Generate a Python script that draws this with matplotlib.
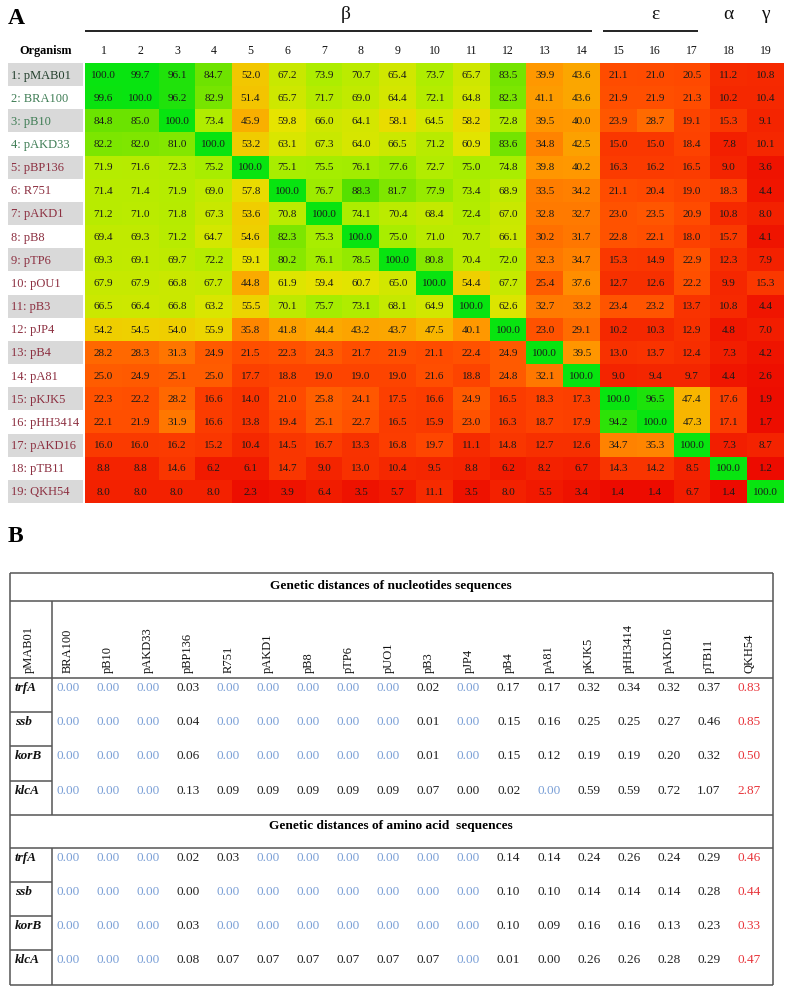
import numpy as np
import matplotlib
matplotlib.use("Agg")
import matplotlib.pyplot as plt
from matplotlib.colors import LinearSegmentedColormap

W, H = 788, 990
SERIF = "Liberation Serif"
plt.rcParams['font.family'] = [SERIF, 'DejaVu Serif']

# ---------------- data: panel A ----------------
organisms = ["pMAB01", "BRA100", "pB10", "pAKD33", "pBP136", "R751", "pAKD1",
             "pB8", "pTP6", "pOU1", "pB3", "pJP4", "pB4", "pA81", "pKJK5",
             "pHH3414", "pAKD16", "pTB11", "QKH54"]
col_numbers = [str(i) for i in range(1, 20)]
groups = [("β", 0, 13), ("ε", 14, 16), ("α", 17, 17), ("γ", 18, 18)]

identity = [
    [100.0, 99.7, 96.1, 84.7, 52.0, 67.2, 73.9, 70.7, 65.4, 73.7, 65.7, 83.5, 39.9, 43.6, 21.1, 21.0, 20.5, 11.2, 10.8],
    [99.6, 100.0, 96.2, 82.9, 51.4, 65.7, 71.7, 69.0, 64.4, 72.1, 64.8, 82.3, 41.1, 43.6, 21.9, 21.9, 21.3, 10.2, 10.4],
    [84.8, 85.0, 100.0, 73.4, 45.9, 59.8, 66.0, 64.1, 58.1, 64.5, 58.2, 72.8, 39.5, 40.0, 23.9, 28.7, 19.1, 15.3, 9.1],
    [82.2, 82.0, 81.0, 100.0, 53.2, 63.1, 67.3, 64.0, 66.5, 71.2, 60.9, 83.6, 34.8, 42.5, 15.0, 15.0, 18.4, 7.8, 10.1],
    [71.9, 71.6, 72.3, 75.2, 100.0, 75.1, 75.5, 76.1, 77.6, 72.7, 75.0, 74.8, 39.8, 40.2, 16.3, 16.2, 16.5, 9.0, 3.6],
    [71.4, 71.4, 71.9, 69.0, 57.8, 100.0, 76.7, 88.3, 81.7, 77.9, 73.4, 68.9, 33.5, 34.2, 21.1, 20.4, 19.0, 18.3, 4.4],
    [71.2, 71.0, 71.8, 67.3, 53.6, 70.8, 100.0, 74.1, 70.4, 68.4, 72.4, 67.0, 32.8, 32.7, 23.0, 23.5, 20.9, 10.8, 8.0],
    [69.4, 69.3, 71.2, 64.7, 54.6, 82.3, 75.3, 100.0, 75.0, 71.0, 70.7, 66.1, 30.2, 31.7, 22.8, 22.1, 18.0, 15.7, 4.1],
    [69.3, 69.1, 69.7, 72.2, 59.1, 80.2, 76.1, 78.5, 100.0, 80.8, 70.4, 72.0, 32.3, 34.7, 15.3, 14.9, 22.9, 12.3, 7.9],
    [67.9, 67.9, 66.8, 67.7, 44.8, 61.9, 59.4, 60.7, 65.0, 100.0, 54.4, 67.7, 25.4, 37.6, 12.7, 12.6, 22.2, 9.9, 15.3],
    [66.5, 66.4, 66.8, 63.2, 55.5, 70.1, 75.7, 73.1, 68.1, 64.9, 100.0, 62.6, 32.7, 33.2, 23.4, 23.2, 13.7, 10.8, 4.4],
    [54.2, 54.5, 54.0, 55.9, 35.8, 41.8, 44.4, 43.2, 43.7, 47.5, 40.1, 100.0, 23.0, 29.1, 10.2, 10.3, 12.9, 4.8, 7.0],
    [28.2, 28.3, 31.3, 24.9, 21.5, 22.3, 24.3, 21.7, 21.9, 21.1, 22.4, 24.9, 100.0, 39.5, 13.0, 13.7, 12.4, 7.3, 4.2],
    [25.0, 24.9, 25.1, 25.0, 17.7, 18.8, 19.0, 19.0, 19.0, 21.6, 18.8, 24.8, 32.1, 100.0, 9.0, 9.4, 9.7, 4.4, 2.6],
    [22.3, 22.2, 28.2, 16.6, 14.0, 21.0, 25.8, 24.1, 17.5, 16.6, 24.9, 16.5, 18.3, 17.3, 100.0, 96.5, 47.4, 17.6, 1.9],
    [22.1, 21.9, 31.9, 16.6, 13.8, 19.4, 25.1, 22.7, 16.5, 15.9, 23.0, 16.3, 18.7, 17.9, 94.2, 100.0, 47.3, 17.1, 1.7],
    [16.0, 16.0, 16.2, 15.2, 10.4, 14.5, 16.7, 13.3, 16.8, 19.7, 11.1, 14.8, 12.7, 12.6, 34.7, 35.3, 100.0, 7.3, 8.7],
    [8.8, 8.8, 14.6, 6.2, 6.1, 14.7, 9.0, 13.0, 10.4, 9.5, 8.8, 6.2, 8.2, 6.7, 14.3, 14.2, 8.5, 100.0, 1.2],
    [8.0, 8.0, 8.0, 8.0, 2.3, 3.9, 6.4, 3.5, 5.7, 11.1, 3.5, 8.0, 5.5, 3.4, 1.4, 1.4, 6.7, 1.4, 100.0],
]

# ---------------- data: panel B ----------------
table_cols = ["pMAB01", "BRA100", "pB10", "pAKD33", "pBP136", "R751", "pAKD1", "pB8",
              "pTP6", "pUO1", "pB3", "pJP4", "pB4", "pA81", "pKJK5", "pHH3414",
              "pAKD16", "pTB11", "QKH54"]
genes = ["trfA", "ssb", "korB", "klcA"]
nuc_title = "Genetic distances of nucleotides sequences"
aa_title = "Genetic distances of amino acid  sequences"
nuc_dist = [
    [0.00, 0.00, 0.00, 0.03, 0.00, 0.00, 0.00, 0.00, 0.00, 0.02, 0.00, 0.17, 0.17, 0.32, 0.34, 0.32, 0.37, 0.83],
    [0.00, 0.00, 0.00, 0.04, 0.00, 0.00, 0.00, 0.00, 0.00, 0.01, 0.00, 0.15, 0.16, 0.25, 0.25, 0.27, 0.46, 0.85],
    [0.00, 0.00, 0.00, 0.06, 0.00, 0.00, 0.00, 0.00, 0.00, 0.01, 0.00, 0.15, 0.12, 0.19, 0.19, 0.20, 0.32, 0.50],
    [0.00, 0.00, 0.00, 0.13, 0.09, 0.09, 0.09, 0.09, 0.09, 0.07, 0.00, 0.02, 0.00, 0.59, 0.59, 0.72, 1.07, 2.87],
]
aa_dist = [
    [0.00, 0.00, 0.00, 0.02, 0.03, 0.00, 0.00, 0.00, 0.00, 0.00, 0.00, 0.14, 0.14, 0.24, 0.26, 0.24, 0.29, 0.46],
    [0.00, 0.00, 0.00, 0.00, 0.00, 0.00, 0.00, 0.00, 0.00, 0.00, 0.00, 0.10, 0.10, 0.14, 0.14, 0.14, 0.28, 0.44],
    [0.00, 0.00, 0.00, 0.03, 0.00, 0.00, 0.00, 0.00, 0.00, 0.00, 0.00, 0.10, 0.09, 0.16, 0.16, 0.13, 0.23, 0.33],
    [0.00, 0.00, 0.00, 0.08, 0.07, 0.07, 0.07, 0.07, 0.07, 0.07, 0.00, 0.01, 0.00, 0.26, 0.26, 0.28, 0.29, 0.47],
]
# zero cells printed in black in the original (section, row, col)
black_zeros = [("nuc", 3, 10), ("aa", 1, 3), ("aa", 3, 12)]

# ---------------- styling ----------------
cmap = LinearSegmentedColormap.from_list("idmap", [
    (0.00, "#ec0800"), (0.20, "#ff4800"), (0.40, "#ff9800"), (0.50, "#f6c000"),
    (0.60, "#e6e400"), (0.75, "#aaee00"), (0.88, "#5ae000"), (1.00, "#08e410")])
BLUE, BLACK, RED = "#7a9fd6", "#222222", "#e8353b"
LINE = "#555555"

fig = plt.figure(figsize=(W / 100, H / 100), dpi=100)
fig.patch.set_facecolor("white")


def fax(l, t, r, b):
    return fig.add_axes([l / W, 1 - b / H, (r - l) / W, (b - t) / H])


# ---------------- panel A ----------------
HM_L, HM_T, HM_R, HM_B = 85, 63, 784, 503
ax = fax(HM_L, HM_T, HM_R, HM_B)
mat = np.array(identity)
nr, nc = mat.shape
ax.imshow(mat, cmap=cmap, vmin=0, vmax=100, aspect="auto", interpolation="nearest")
ax.set_xlim(-0.5, nc - 0.5)
ax.set_ylim(nr - 0.5, -0.5)
ax.set_axis_off()
for i in range(nr):
    for j in range(nc):
        ax.text(j, i + 0.03, f"{mat[i, j]:.1f}", ha="center", va="center",
                fontsize=8, color="#1a1a1a", family=SERIF)

rowh_px = (HM_B - HM_T) / nr
def ypx_to_data(ypx):
    return -0.5 - (HM_T - ypx) / rowh_px

# column numbers
for j, lab in enumerate(col_numbers):
    ax.text(j, ypx_to_data(51), lab, ha="center", va="center", fontsize=8.5,
            color="#111111", clip_on=False, family=SERIF)

# group lines and greek letters
insets = {"β": (0.0, 0.22), "ε": (0.08, 0.33)}
for name, c0, c1 in groups:
    xc = (c0 + c1) / 2
    ax.text(xc + (0.1 if name == "β" else 0), ypx_to_data(14), name, ha="center", va="center",
            fontsize=14, color="#111111", clip_on=False, family=SERIF)
    if name in insets:
        a, b = insets[name]
        ax.plot([c0 - 0.5 + a, c1 + 0.5 - b], [ypx_to_data(31)] * 2, color="#111111",
                lw=1.3, clip_on=False, solid_capstyle="butt")

# row labels
axl = fax(8, HM_T, 83, HM_B)
axl.set_xlim(0, 1)
axl.set_ylim(nr - 0.5, -0.5)
axl.set_axis_off()
stripe = [i for i in range(nr) if i % 2 == 0]
axl.barh(stripe, [1] * len(stripe), height=1.0, left=0, color="#d9d9d9")
for i, name in enumerate(organisms):
    if i == 0:
        col = "#24402e"
    elif i < 4:
        col = "#3f7d55"
    else:
        col = "#8c2f40"
    axl.text(0.04, i + 0.04, f"{i + 1}: {name}", ha="left", va="center",
             fontsize=9, color=col, family=SERIF)

# ---------------- overlay (labels + table) ----------------
ov = fig.add_axes([0, 0, 1, 1], zorder=5)
ov.set_xlim(0, W)
ov.set_ylim(H, 0)
ov.set_axis_off()
ov.patch.set_alpha(0)

ov.text(8, 18, "A", fontsize=17, fontweight="bold", ha="left", va="center", family=SERIF)
ov.text(46, 51, "Organism", fontsize=8.8, fontweight="bold", ha="center", va="center", family=SERIF)
ov.text(8, 537, "B", fontsize=17, fontweight="bold", ha="left", va="center", family=SERIF)

# table geometry
T_L, T_R = 10, 773
T_TOP = 573
TITLE1_B = 601
HEAD_B = 678
ROW_H = 34.2
LAB_R = 52
COL_X0, COL_DX = 68, 40.06


def hline(y, x0=T_L, x1=T_R):
    ov.plot([x0, x1], [y, y], color=LINE, lw=1.1, solid_capstyle="butt")


def vline(x, y0, y1):
    ov.plot([x, x], [y0, y1], color=LINE, lw=1.1, solid_capstyle="butt")


sec1_top = HEAD_B
sec1_bot = sec1_top + ROW_H * len(genes)
title2_bot = sec1_bot + 33
sec2_bot = title2_bot + ROW_H * len(genes)

for y in [T_TOP, TITLE1_B, HEAD_B, sec1_bot, title2_bot, sec2_bot]:
    hline(y)
vline(T_L, T_TOP, sec2_bot)
vline(T_R, T_TOP, sec2_bot)
vline(LAB_R, TITLE1_B, sec1_bot)
vline(LAB_R, title2_bot, sec2_bot)
for k in range(1, len(genes)):
    hline(sec1_top + k * ROW_H, T_L, LAB_R)
    hline(title2_bot + k * ROW_H, T_L, LAB_R)

ov.text(391, (T_TOP + TITLE1_B) / 2 - 1, nuc_title, ha="center", va="center",
        fontsize=9.6, fontweight="bold", family=SERIF)
ov.text(391, sec1_bot + 11, aa_title, ha="center", va="center",
        fontsize=9.6, fontweight="bold", family=SERIF)

# column headers (rotated)
ov.text(29, HEAD_B - 5, table_cols[0], rotation=90, ha="center",
        va="bottom", fontsize=9, family=SERIF, color="#111111")
for j, name in enumerate(table_cols[1:]):
    ov.text(COL_X0 + j * COL_DX, HEAD_B - 5, name, rotation=90, ha="center", va="bottom",
            fontsize=9, family=SERIF, color="#111111")


def draw_section(vals, top, key):
    for i, g in enumerate(genes):
        y = top + i * ROW_H + 10
        ov.text(15, y, g, ha="left", va="center", fontsize=9.5, fontweight="bold",
                fontstyle="italic", family=SERIF, color="#111111")
        for j, v in enumerate(vals[i]):
            if j == len(vals[i]) - 1:
                c = RED
            elif v == 0 and (key, i, j) not in black_zeros:
                c = BLUE
            else:
                c = BLACK
            ov.text(COL_X0 + j * COL_DX, y, f"{v:.2f}", ha="center", va="center",
                    fontsize=9.5, family=SERIF, color=c)


draw_section(nuc_dist, sec1_top, "nuc")
draw_section(aa_dist, title2_bot, "aa")

fig.savefig("out.png", dpi=100)
